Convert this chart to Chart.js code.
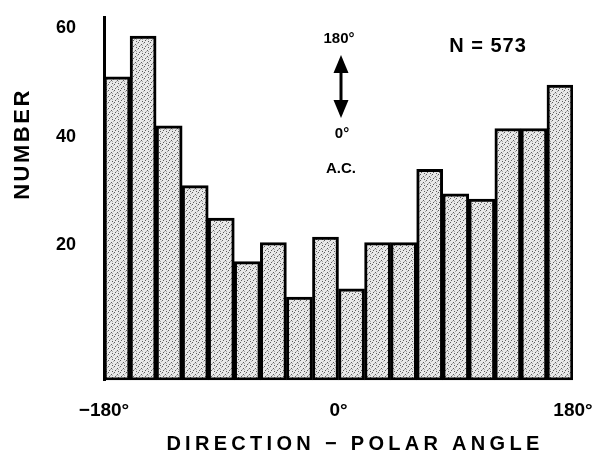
<!DOCTYPE html>
<html>
<head>
  <meta charset="utf-8" />
  <title>Direction - Polar Angle</title>
  <script src="https://cdn.jsdelivr.net/npm/chart.js"></script>
  <style>
    html, body {
      margin: 0;
      padding: 0;
      background: #fff;
    }
    .wrap {
      width: 594px;
      height: 460px;
    }
  </style>
</head>
<body>
  <div class="wrap"><canvas id="hist"></canvas></div>

  <script>
    // bin centres (20 deg bins) and counts
    const binCenters = [-170, -150, -130, -110, -90, -70, -50, -30, -10, 10, 30, 50, 70, 90, 110, 130, 150, 170];
    const counts = [51, 58.5, 42, 31, 25, 17, 20.5, 10.5, 21.5, 12, 20.5, 20.5, 34, 29.5, 28.5, 41.5, 41.5, 49.5];
    const yTicks = [20, 40, 60];
    const xTicks = [-180, 0, 180];
    const xTickLabels = ['\u2212180\u00b0', '0\u00b0', '180\u00b0'];
    const yMin = -4.8;
    const yMax = 62;

    // stippled grey fill like the printed figure
    function makeStipple() {
      const c = document.createElement('canvas');
      c.width = 6;
      c.height = 6;
      const g = c.getContext('2d');
      g.fillStyle = '#e8e8e8';
      g.fillRect(0, 0, 6, 6);
      g.fillStyle = '#5c5c5c';
      g.fillRect(0, 0, 1, 1);
      g.fillRect(3, 2, 1, 1);
      g.fillRect(1, 4, 1, 1);
      g.fillRect(4, 5, 1, 1);
      g.fillStyle = '#a8a8a8';
      g.fillRect(5, 1, 1, 1);
      g.fillRect(2, 3, 1, 1);
      g.fillRect(4, 3, 1, 1);
      return g.createPattern(c, 'repeat');
    }

    // titles and the little annotation (arrow, N = 573)
    const labelsPlugin = {
      id: 'labels',
      afterDraw(chart) {
        const ctx = chart.ctx;
        ctx.save();
        ctx.fillStyle = '#000';
        ctx.strokeStyle = '#000';
        ctx.textAlign = 'center';
        ctx.textBaseline = 'middle';

        // y title
        ctx.save();
        ctx.translate(23, 144);
        ctx.rotate(-Math.PI / 2);
        ctx.font = 'bold 22px "Liberation Sans", Arial, sans-serif';
        ctx.letterSpacing = '2.5px';
        ctx.fillText('NUMBER', 0, 0);
        ctx.restore();

        // x title
        ctx.font = 'bold 20px "Liberation Sans", Arial, sans-serif';
        ctx.letterSpacing = '4.3px';
        ctx.fillText('DIRECTION \u2212 POLAR ANGLE', 355, 444);

        // N = 573
        ctx.font = 'bold 20px "Liberation Sans", Arial, sans-serif';
        ctx.letterSpacing = '1px';
        ctx.fillText('N = 573', 488, 46);

        // arrow legend
        ctx.letterSpacing = '0px';
        ctx.font = 'bold 15px "Liberation Sans", Arial, sans-serif';
        ctx.fillText('180\u00b0', 339, 39);
        ctx.fillText('0\u00b0', 342, 134);
        ctx.fillText('A.C.', 341, 169);

        const ax = 341, top = 55, bot = 118;
        ctx.lineWidth = 3;
        ctx.beginPath();
        ctx.moveTo(ax, top + 10);
        ctx.lineTo(ax, bot - 10);
        ctx.stroke();
        ctx.beginPath();
        ctx.moveTo(ax, top);
        ctx.lineTo(ax - 7.5, top + 18);
        ctx.lineTo(ax + 7.5, top + 18);
        ctx.closePath();
        ctx.fill();
        ctx.beginPath();
        ctx.moveTo(ax, bot);
        ctx.lineTo(ax - 7.5, bot - 18);
        ctx.lineTo(ax + 7.5, bot - 18);
        ctx.closePath();
        ctx.fill();

        ctx.restore();
      }
    };

    const ctx = document.getElementById('hist').getContext('2d');

    new Chart(ctx, {
      type: 'bar',
      data: {
        datasets: [{
          data: binCenters.map((x, i) => ({ x: x, y: counts[i] })),
          base: yMin,
          backgroundColor: makeStipple(),
          borderColor: '#000',
          borderWidth: 3,
          borderSkipped: false,
          barPercentage: 1,
          categoryPercentage: 1
        }]
      },
      options: {
        responsive: true,
        maintainAspectRatio: false,
        animation: false,
        layout: {
          padding: { left: 28, top: 17, right: 21, bottom: 19 }
        },
        plugins: {
          legend: { display: false },
          tooltip: { enabled: false }
        },
        scales: {
          x: {
            type: 'linear',
            min: -180,
            max: 180,
            offset: false,
            grid: { display: false, drawTicks: false },
            border: { display: false },
            afterBuildTicks: (axis) => {
              axis.ticks = xTicks.map(v => ({ value: v }));
            },
            // label overflow is handled by the layout padding above
            afterFit: (axis) => {
              axis.paddingRight = 0;
            },
            ticks: {
              padding: 19,
              autoSkip: false,
              maxRotation: 0,
              color: '#000',
              font: { family: '"Liberation Sans", Arial, sans-serif', size: 19, weight: 'bold' },
              callback: (v) => xTickLabels[xTicks.indexOf(v)]
            }
          },
          y: {
            min: yMin,
            max: yMax,
            grid: { display: false, drawTicks: false },
            border: { display: true, color: '#000', width: 3 },
            afterBuildTicks: (axis) => {
              axis.ticks = yTicks.map(v => ({ value: v }));
            },
            afterFit: (axis) => {
              axis.paddingTop = 0;
              axis.paddingBottom = 0;
            },
            ticks: {
              padding: 28,
              color: '#000',
              font: { family: '"Liberation Sans", Arial, sans-serif', size: 18, weight: 'bold' }
            }
          }
        }
      },
      plugins: [labelsPlugin]
    });
  </script>
</body>
</html>
